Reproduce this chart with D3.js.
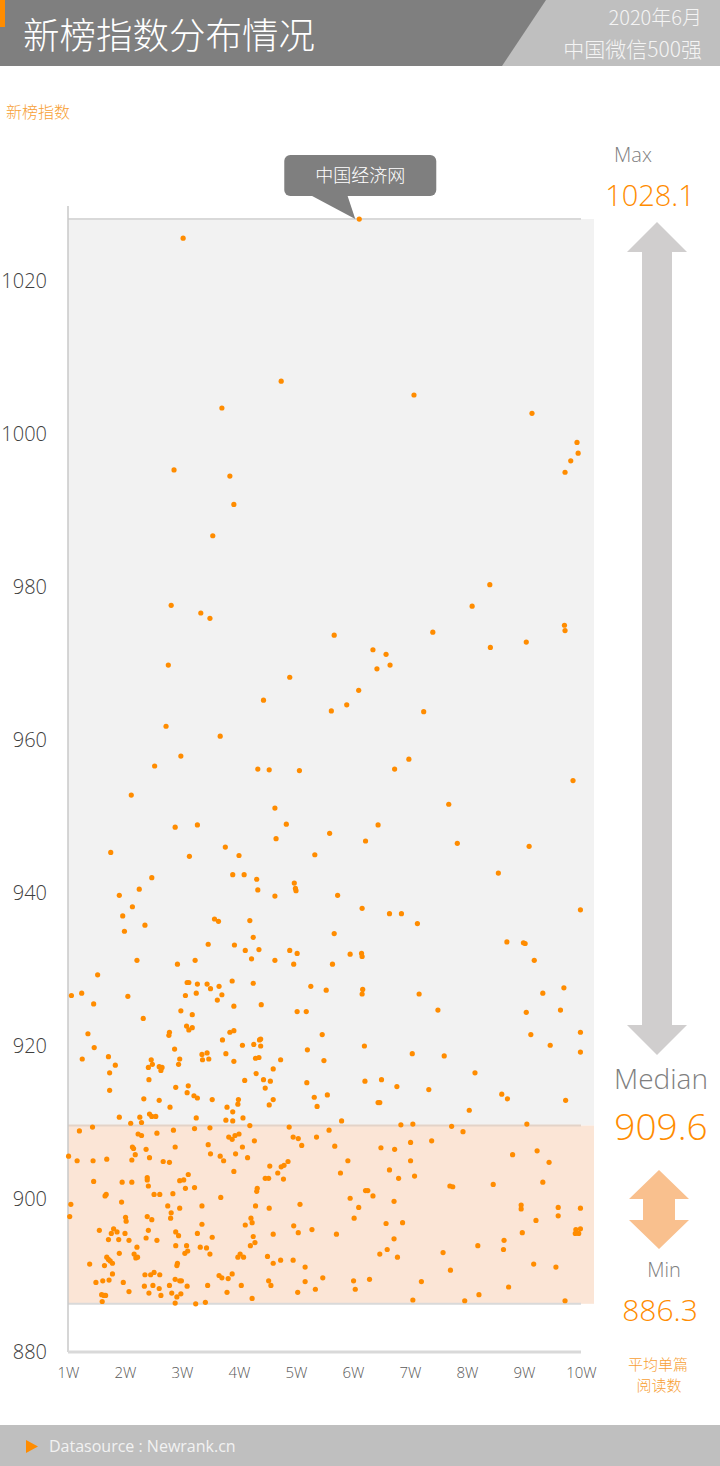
<!DOCTYPE html>
<html>
<head>
<meta charset="utf-8">
<script src="https://cdn.jsdelivr.net/npm/d3@7"></script>
<style>
  html, body { margin: 0; padding: 0; background: #fff; }
  svg { display: block; }
  text { font-family: "Open Sans", "Noto Sans CJK SC", sans-serif; }
  .cn { font-family: "Noto Sans CJK SC", "Open Sans", sans-serif; }
</style>
</head>
<body>
<div id="chart"></div>
<script>
// 平均单篇阅读数 (W) , 新榜指数
const topRange = [
  [3.02,1025.6],[4.74,1006.9],[3.70,1003.4],[2.86,995.3],[3.84,994.5],[3.91,990.8],[3.54,986.7],[2.81,977.6],
  [3.33,976.6],[3.49,975.9],[2.76,969.8],[4.89,968.2],[4.43,965.2],[2.72,961.8],[3.67,960.5],
  [6.11,1028.1],[7.07,1005.1],[9.14,1002.7],[9.93,998.9],[9.95,997.5],[9.82,996.5],[9.72,995.0],[8.40,980.3],
  [8.09,977.5],[5.67,973.7],[7.40,974.1],[9.71,975.0],[9.72,974.3],[6.35,971.8],[6.58,971.2],[8.41,972.1],
  [9.04,972.8],[6.42,969.3],[6.65,969.8],[6.10,966.5],[5.89,964.6],[5.62,963.8],[7.24,963.7]
];

const upperBand = [
  [2.98,957.9],[2.52,956.6],[4.33,956.2],[4.53,956.1],[5.06,956.0],[2.11,952.8],[4.63,951.1],[4.83,949.0],
  [2.88,948.6],[3.27,948.9],[4.65,947.1],[1.75,945.3],[3.13,944.8],[3.76,946.0],[4.00,944.9],[5.33,945.0],
  [2.47,942.0],[3.89,942.4],[4.09,942.4],[4.31,941.8],[4.97,941.3],[4.99,940.6],[5.00,940.3],[4.33,940.4],
  [4.63,939.6],[2.25,940.5],[1.90,939.7],[2.13,938.2],[1.96,937.0],[1.99,935.0],[2.35,935.8],[3.57,936.6],
  [3.64,936.3],[4.19,936.4],[4.25,934.2],[3.46,933.3],[3.92,933.2],[4.11,932.5],[4.35,932.6],[4.89,932.5],
  [5.02,932.1],[4.22,931.4],[4.63,931.2],[4.96,930.7],[2.21,931.2],[2.92,930.7],[3.23,931.2],[1.52,929.3],
  [3.09,928.3],[3.12,928.3],[3.27,928.1],[3.44,928.1],[3.50,927.5],[3.65,927.8],[3.88,928.5],[4.25,928.2],
  [5.26,927.8],[1.06,926.6],[1.24,926.9],[1.45,925.5],[2.05,926.5],[3.06,926.6],[3.25,926.9],[3.62,926.0],
  [3.70,926.7],[3.91,925.2],[4.39,925.4],[5.02,924.5],[5.18,924.5],[2.32,923.6],[2.98,924.6],[3.18,924.1],
  [6.98,957.5],[6.73,956.2],[9.86,954.7],[7.68,951.6],[6.44,948.9],[5.59,947.8],[6.22,946.8],[7.83,946.5],
  [9.09,946.1],[8.55,942.6],[5.73,939.7],[6.16,938.0],[6.64,937.3],[6.85,937.3],[7.13,936.0],[9.99,937.8],
  [5.67,934.7],[8.70,933.6],[8.99,933.5],[9.02,933.4],[9.18,931.2],[5.95,932.0],[6.15,932.1],[6.16,931.7],
  [5.64,930.7],[5.53,927.3],[6.17,927.4],[6.16,926.8],[7.16,926.8],[7.49,924.7],[9.33,926.9],[9.70,927.6],
  [9.64,924.7],[9.04,924.4],
  [1.35,921.6],[1.46,919.8],[1.25,918.3],[1.71,918.6],[1.83,917.5],[1.73,916.5],[1.73,914.2],[1.90,910.7],
  [2.10,909.9],[2.26,910.7],[2.29,910.0],[2.33,913.1],[2.43,911.1],[2.47,910.8],[2.54,910.8],[2.60,912.9],
  [2.79,912.0],[2.89,914.6],[3.09,913.9],[3.11,914.8],[3.21,913.5],[3.27,913.2],[3.53,913.0],[3.25,910.6],
  [2.42,915.6],[2.41,917.2],[2.46,918.2],[2.48,917.6],[2.60,917.3],[2.65,917.2],[2.63,916.8],[2.77,921.4],
  [2.78,921.8],[2.87,919.6],[2.94,917.6],[2.96,918.3],[3.08,922.6],[3.12,922.1],[3.18,922.4],[3.36,918.2],
  [3.35,918.9],[3.44,919.1],[3.47,918.3],[3.71,920.8],[3.84,921.8],[3.91,922.0],[3.77,919.0],[3.91,918.0],
  [4.06,920.1],[4.26,920.2],[4.36,920.8],[4.38,920.9],[4.38,920.0],[4.29,918.4],[4.35,918.5],[4.30,916.4],
  [4.43,915.6],[4.55,915.4],[4.60,917.0],[4.73,918.2],[4.46,914.5],[4.10,915.5],[3.99,913.0],[3.98,912.4],
  [3.89,911.4],[3.79,912.0],[3.77,910.3],[3.89,910.2],[4.07,910.6],[4.60,913.0],[4.53,912.3],[5.20,919.5],
  [5.46,921.5],[5.49,918.1],[5.19,915.2],[5.32,913.3],[5.37,912.1],[4.19,909.6],
  [5.55,913.6],[6.20,920.0],[7.04,919.0],[7.60,918.7],[9.12,921.5],[9.46,920.1],[9.99,921.8],[9.99,919.2],
  [8.14,916.5],[6.21,915.4],[6.50,915.6],[6.77,914.7],[7.33,914.3],[8.61,913.7],[8.71,913.1],[9.73,912.9],
  [6.44,912.6],[6.47,912.6],[8.04,911.6],[5.80,910.2],[6.84,909.7],[7.05,909.8],[9.05,909.8]
];

const lowerBand = [
  [1.20,908.9],[1.43,909.4],[3.22,909.2],[3.49,909.3],[2.85,909.0],[2.56,908.6],[2.23,908.5],[2.29,908.3],
  [4.88,909.4],[1.01,905.6],[1.16,905.0],[1.44,905.0],[1.68,905.2],[2.12,905.1],[2.13,906.8],[2.15,906.6],
  [2.18,905.8],[2.37,906.5],[2.43,905.4],[2.67,904.9],[2.78,904.8],[2.88,906.8],[3.46,907.1],[3.50,905.9],
  [3.67,905.6],[3.73,905.0],[3.82,908.1],[3.88,907.8],[3.93,908.3],[4.00,908.5],[3.94,905.9],[4.06,906.8],
  [4.15,905.4],[4.27,907.6],[4.95,908.1],[5.04,907.9],[5.10,907.0],[5.36,908.1],[4.54,904.3],[4.74,904.2],
  [4.79,904.4],[4.86,904.9],[4.68,903.4],[4.78,902.6],[4.46,902.7],[4.52,902.7],[3.91,903.6],[4.32,901.4],
  [4.31,901.0],[4.29,899.1],[4.53,898.8],[5.07,899.3],[3.68,900.2],[3.35,899.1],[3.22,901.5],[3.11,903.2],
  [3.03,902.5],[2.96,902.4],[3.06,901.4],[2.84,900.7],[2.61,900.6],[2.51,900.6],[2.41,901.7],[2.39,902.8],
  [2.39,902.5],[2.12,902.2],[1.95,902.2],[1.45,902.3],[1.67,900.6],[1.65,900.4],[1.94,899.6],[1.05,899.3],
  [1.03,897.7],[2.75,899.1],[2.96,898.8],[2.81,898.2],[2.80,897.5],[2.39,897.7],[2.47,897.3],[2.01,897.6],
  [2.02,897.1],[3.35,896.7],[3.27,895.5],[3.53,895.0],[2.89,895.7],[2.94,895.2],[2.41,895.9],[2.37,894.9],
  [2.56,894.6],[2.07,894.6],[1.89,894.7],[1.71,894.7],[2.00,895.5],[1.86,895.7],[1.80,896.1],[1.76,895.5],
  [1.55,895.9],[1.90,892.9],[2.21,893.7],[2.16,892.8],[2.19,892.3],[2.22,892.4],[2.89,893.9],[3.08,893.9],
  [3.10,893.2],[3.05,892.9],[3.32,893.7],[3.43,893.6],[3.49,892.8],[4.11,896.6],[4.21,897.5],[4.23,896.9],
  [4.25,895.1],[4.28,894.3],[4.20,893.9],[4.60,895.4],[4.96,896.5],[5.04,895.6],[5.28,896.0],[4.02,892.8],
  [3.98,892.4],[4.08,892.4],[4.50,892.5],[4.60,891.6],[4.73,892.0],[4.95,892.0],[5.16,891.1],[1.38,891.5],
  [1.64,891.3],[1.68,892.4],[1.71,892.1],[1.74,891.9],[1.78,891.6],[2.91,891.3],[2.92,891.6],[1.78,890.2],
  [1.72,889.4],[1.61,889.3],[1.49,889.1],[1.97,889.1],[2.35,890.1],[2.45,890.1],[2.51,890.4],[2.61,890.1],
  [2.88,889.5],[2.96,889.3],[2.99,889.3],[3.09,888.6],[2.78,888.7],[2.34,888.6],[2.49,888.7],[2.60,888.3],
  [2.07,887.9],[2.42,887.7],[2.63,887.4],[2.82,887.7],[2.91,887.2],[2.98,887.6],[2.88,886.4],[3.24,886.3],
  [3.41,886.5],[3.65,890.0],[3.70,889.7],[3.81,889.6],[3.88,890.2],[3.45,888.7],[3.79,887.8],[4.04,888.7],
  [4.23,887.0],[4.52,889.3],[4.56,888.7],[5.03,887.8],[5.16,889.2],[5.34,888.2],[1.59,887.5],[1.63,887.4],
  [1.66,887.4],[1.60,886.6],
  [5.58,909.0],[7.73,909.5],[7.93,908.8],[5.68,906.9],[6.49,906.7],[6.73,906.5],[7.01,907.4],[7.38,907.6],
  [5.91,905.0],[7.01,905.0],[6.64,903.8],[6.80,902.7],[7.08,903.0],[5.78,903.4],[8.80,905.8],[9.23,906.3],
  [9.44,904.8],[9.33,902.2],[8.46,901.9],[7.70,901.7],[7.75,901.6],[6.22,901.1],[6.26,901.1],[6.35,900.4],
  [5.95,900.1],[6.10,898.9],[6.02,897.5],[6.72,899.7],[6.58,896.8],[6.87,896.9],[5.71,895.4],[6.72,894.8],
  [6.60,893.4],[6.47,892.8],[6.78,892.4],[7.58,893.0],[7.71,890.7],[8.19,893.9],[8.65,894.6],[8.64,893.4],
  [8.97,895.6],[8.95,899.2],[8.95,898.7],[9.21,897.2],[9.60,898.9],[9.60,897.8],[9.99,898.8],[9.91,896.0],
  [9.99,896.1],[9.96,895.5],[9.90,895.5],[9.17,891.5],[9.56,891.1],[5.47,889.7],[6.01,889.3],[6.04,888.2],
  [6.29,889.5],[7.20,889.2],[8.73,888.5],[8.21,887.5],[7.05,886.8],[7.96,886.7],[9.72,886.7]
];

const yTicks = [880, 900, 920, 940, 960, 980, 1000, 1020];
const xTicks = [1, 2, 3, 4, 5, 6, 7, 8, 9, 10];
const stats = { max: 1028.1, median: 909.6, min: 886.3 };
const maxName = "中国经济网";
const maxReads = 6.11;

const W = 720, H = 1466;
const orange = "#ff8c00";

const svg = d3.select("#chart").append("svg")
  .attr("width", W).attr("height", H);

// header
svg.append("rect").attr("x", 0).attr("y", 0).attr("width", W).attr("height", 66).attr("fill", "#7f7f7f");
svg.append("path").attr("d", "M546,0 L720,0 L720,66 L502,66 Z").attr("fill", "#bfbfbf");
svg.append("rect").attr("x", 0).attr("y", 0).attr("width", 5).attr("height", 27).attr("fill", orange);
svg.append("text").attr("class", "cn").attr("x", 23).attr("y", 49)
  .attr("font-size", 36.5).attr("font-weight", 300).attr("fill", "#fff").text("新榜指数分布情况");
svg.append("text").attr("class", "cn").attr("x", 702).attr("y", 25).attr("text-anchor", "end")
  .attr("font-size", 20).attr("font-weight", 300).attr("fill", "#f4f4f4").text("2020年6月");
svg.append("text").attr("class", "cn").attr("x", 702).attr("y", 57).attr("text-anchor", "end")
  .attr("font-size", 21).attr("font-weight", 300).attr("fill", "#f4f4f4").text("中国微信500强");

svg.append("text").attr("class", "cn").attr("x", 6).attr("y", 118)
  .attr("font-size", 16).attr("font-weight", 300).attr("fill", "#f7a035").text("新榜指数");

// scales
const x = d3.scaleLinear().domain([1, 10]).range([68, 581]);
const y = d3.scaleLinear().domain([880, 1020]).range([1352, 281]);
const bandRight = 594;

// bands
svg.append("rect")
  .attr("x", x(1)).attr("y", y(stats.max))
  .attr("width", bandRight - x(1)).attr("height", y(stats.median) - y(stats.max))
  .attr("fill", "#f2f2f2");
svg.append("rect")
  .attr("x", x(1)).attr("y", y(stats.median))
  .attr("width", bandRight - x(1)).attr("height", y(stats.min) - y(stats.median))
  .attr("fill", "#fbe5d6");

const refLines = [
  { v: stats.max, c: "#d9d9d9" },
  { v: stats.median, c: "#e3d3c8" },
  { v: stats.min, c: "#d9d9d9" }
];
svg.selectAll("line.ref").data(refLines).join("line")
  .attr("class", "ref")
  .attr("x1", x(1)).attr("x2", x(10))
  .attr("y1", d => y(d.v)).attr("y2", d => y(d.v))
  .attr("stroke", d => d.c).attr("stroke-width", 2);

// axes
const g_yaxis = svg.append("g").attr("transform", `translate(${x(1) - 21},0)`)
  .call(d3.axisLeft(y).tickValues(yTicks).tickSize(0).tickPadding(0).tickFormat(d3.format("d")));
g_yaxis.select(".domain").remove();
g_yaxis.selectAll("text")
  .attr("font-family", "'Open Sans', sans-serif").attr("font-size", 20).attr("font-weight", 300)
  .attr("fill", "#404040");

svg.append("line").attr("x1", x(1)).attr("x2", x(1)).attr("y1", 206).attr("y2", y(880))
  .attr("stroke", "#c8c8c8").attr("stroke-width", 1.5);
svg.append("line").attr("x1", x(1)).attr("x2", x(10)).attr("y1", y(880)).attr("y2", y(880))
  .attr("stroke", "#d9d9d9").attr("stroke-width", 3);

const g_xaxis = svg.append("g").attr("transform", `translate(0,${y(880)})`)
  .call(d3.axisBottom(x).tickValues(xTicks).tickSize(0).tickPadding(15).tickFormat(d => d + "W"));
g_xaxis.select(".domain").remove();
g_xaxis.selectAll("text")
  .attr("font-family", "'Open Sans', sans-serif").attr("font-size", 15).attr("font-weight", 300)
  .attr("fill", "#595959");

// points
const allPoints = topRange.concat(upperBand, lowerBand);
svg.append("g").selectAll("circle").data(allPoints).join("circle")
  .attr("cx", d => x(d[0]))
  .attr("cy", d => y(d[1]))
  .attr("r", 2.6)
  .attr("fill", orange);

// callout for max
const mx = x(maxReads), my = y(stats.max);
const callout = svg.append("g");
callout.append("path")
  .attr("d", `M${mx - 49},${my - 24} L${mx - 4},${my} L${mx - 12},${my - 24} Z`)
  .attr("fill", "#7f7f7f");
callout.append("rect")
  .attr("x", mx - 75).attr("y", my - 64).attr("width", 152).attr("height", 41)
  .attr("rx", 6).attr("fill", "#7f7f7f");
callout.append("text").attr("class", "cn")
  .attr("x", mx + 1).attr("y", my - 37).attr("text-anchor", "middle")
  .attr("font-size", 18).attr("font-weight", 300).attr("fill", "#fff").text(maxName);

// right panel
function rtext(t, cx, by, size, fill, cls) {
  svg.append("text").attr("class", cls || null).attr("x", cx).attr("y", by)
    .attr("text-anchor", "middle").attr("font-size", size).attr("font-weight", 300)
    .attr("fill", fill).text(t);
}
rtext("Max", 633, 162, 20, "#7f7f7f");
rtext(d3.format(".1f")(stats.max), 650, 206, 29, orange);
rtext("Median", 661, 1089, 28, "#7f7f7f");
rtext(d3.format(".1f")(stats.median), 661, 1140, 37, orange);
rtext("Min", 664, 1277, 20, "#7f7f7f");
rtext(d3.format(".1f")(stats.min), 660, 1321, 30, orange);
rtext("平均单篇", 658, 1370, 15, "#f7a035", "cn");
rtext("阅读数", 659, 1391, 15, "#f7a035", "cn");

// double arrows
const arrow = d3.line();
svg.append("path")
  .attr("d", arrow([[657,222],[687,252],[672,252],[672,1025],[687,1025],[657,1055],[627,1025],[642,1025],[642,252],[627,252]]) + "Z")
  .attr("fill", "#d0cece");
svg.append("path")
  .attr("d", arrow([[659,1170],[689,1199],[675,1199],[675,1220],[689,1220],[659,1249],[629,1220],[643,1220],[643,1199],[629,1199]]) + "Z")
  .attr("fill", "#f9c08e");

// footer
svg.append("rect").attr("x", 0).attr("y", 1425).attr("width", W).attr("height", H - 1425).attr("fill", "#bfbfbf");
svg.append("path").attr("d", "M26,1440 L38,1446.5 L26,1453 Z").attr("fill", orange);
svg.append("text").attr("x", 49).attr("y", 1452)
  .attr("font-size", 16).attr("fill", "#f2f2f2").text("Datasource : Newrank.cn");
</script>
</body>
</html>
